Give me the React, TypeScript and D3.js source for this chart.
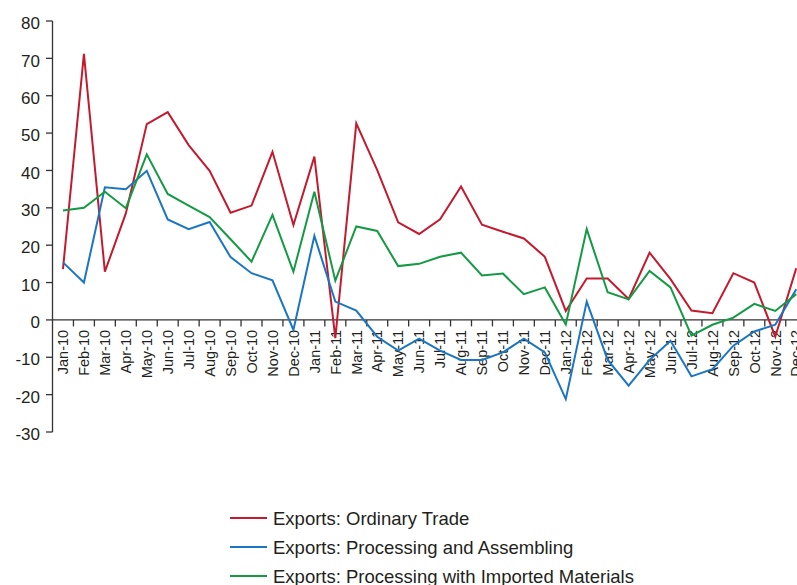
import React from "react";
import * as d3 from "d3";

const months = [
  "Jan-10","Feb-10","Mar-10","Apr-10","May-10","Jun-10","Jul-10","Aug-10","Sep-10","Oct-10","Nov-10","Dec-10",
  "Jan-11","Feb-11","Mar-11","Apr-11","May-11","Jun-11","Jul-11","Aug-11","Sep-11","Oct-11","Nov-11","Dec-11",
  "Jan-12","Feb-12","Mar-12","Apr-12","May-12","Jun-12","Jul-12","Aug-12","Sep-12","Oct-12","Nov-12","Dec-12",
];

const ordinaryTrade = [
  13.6, 71.2, 12.9, 28.5, 52.4, 55.6, 46.8, 39.9, 28.7, 30.6, 45.0, 25.4,
  43.7, -4.9, 52.6, 40.1, 26.1, 23.0, 26.9, 35.7, 25.5, 23.6, 21.8, 16.9,
  2.4, 11.1, 11.1, 5.6, 18.0, 10.9, 2.5, 1.8, 12.5, 10.0, -4.5, 13.8,
];

const processingAssembling = [
  15.4, 10.0, 35.5, 35.0, 39.9, 26.9, 24.3, 26.2, 16.8, 12.5, 10.6, -2.7,
  22.5, 4.9, 2.5, -4.5, -8.2, -5.0, -8.2, -10.7, -10.7, -8.7, -5.0, -8.7,
  -21.2, 4.9, -10.7, -17.6, -10.7, -5.6, -15.1, -13.2, -6.9, -3.1, -1.3, 8.2,
];

const processingImported = [
  29.3, 30.0, 34.3, 29.9, 44.3, 33.7, 30.6, 27.5, 21.6, 15.6, 28.1, 12.9,
  34.3, 10.5, 25.0, 23.8, 14.4, 15.0, 16.9, 18.0, 11.9, 12.4, 6.9, 8.7,
  -1.2, 24.3, 7.4, 5.5, 13.1, 8.7, -4.2, -1.3, 0.6, 4.3, 2.4, 6.9,
];

const yTicks = [-30, -20, -10, 0, 10, 20, 30, 40, 50, 60, 70, 80];

const seriesNames = [
  "Exports: Ordinary Trade",
  "Exports: Processing and Assembling",
  "Exports: Processing with Imported Materials",
];
const seriesColors = ["#c31a2f", "#1a76c2", "#149a45"];

export default function App() {
  const W = 797;
  const H = 585;
  const left = 52.5;
  const step = 20.95;
  const x = d3
    .scaleBand<string>()
    .domain(months)
    .range([left, left + step * months.length])
    .paddingInner(0)
    .paddingOuter(0);
  const y = d3.scaleLinear().domain([-30, 80]).range([432, 21]);
  const cx = (m: string) => (x(m) as number) + x.bandwidth() / 2;

  const allSeries = [ordinaryTrade, processingAssembling, processingImported];
  const line = d3
    .line<number>()
    .x((_, i) => cx(months[i]))
    .y((d) => y(d));

  const textColor = "#231f20";
  const axisColor = "#333333";
  const font = "Liberation Sans, Arial, sans-serif";

  return (
    <div style={{ position: "absolute", left: 0, top: 0 }}>
      <svg width={W} height={H} style={{ display: "block" }} fontFamily={font}>
        {/* y axis */}
        <line x1={left} x2={left} y1={y(80)} y2={y(-30)} stroke={axisColor} strokeWidth={1.3} />
        {yTicks.map((t) => (
          <g key={t}>
            <line x1={left - 6.5} x2={left} y1={y(t)} y2={y(t)} stroke={axisColor} strokeWidth={1.3} />
            <text x={40} y={y(t)} dy="0.48em" textAnchor="end" fontSize={17} fill={textColor}>
              {t}
            </text>
          </g>
        ))}
        {/* x axis at zero */}
        <line x1={left} x2={W} y1={y(0)} y2={y(0)} stroke={axisColor} strokeWidth={1.3} />
        {months.map((m, i) =>
          i === 0 ? null : (
            <line key={m} x1={x(m)} x2={x(m)} y1={y(0)} y2={y(0) + 6.5} stroke={axisColor} strokeWidth={1.3} />
          )
        )}
        {months.map((m) => (
          <text
            key={m}
            transform={`translate(${cx(m)},${y(0) + 10}) rotate(-90)`}
            dy="0.36em"
            textAnchor="end"
            fontSize={14.5}
            fill={textColor}
          >
            {m}
          </text>
        ))}
        {/* lines */}
        {allSeries.map((s, k) => (
          <path key={k} d={line(s) || ""} fill="none" stroke={seriesColors[k]} strokeWidth={2} strokeLinejoin="miter" />
        ))}
        {/* legend */}
        {seriesNames.map((n, k) => {
          const ly = 518 + k * 29;
          return (
            <g key={n}>
              <line x1={230} x2={267} y1={ly} y2={ly} stroke={seriesColors[k]} strokeWidth={2} />
              <text x={273} y={ly} dy="0.36em" fontSize={18.5} fill={textColor}>
                {n}
              </text>
            </g>
          );
        })}
      </svg>
    </div>
  );
}
